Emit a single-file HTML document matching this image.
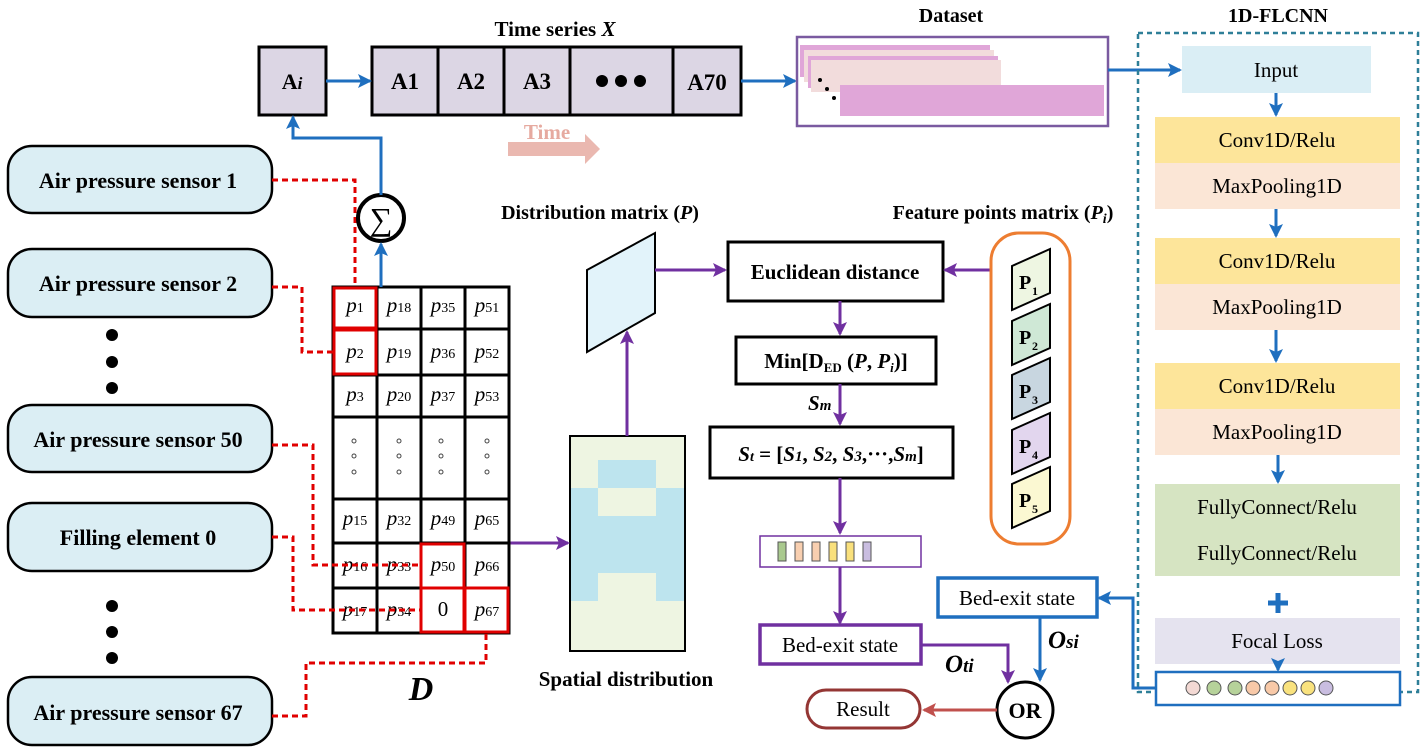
<!DOCTYPE html>
<html><head><meta charset="utf-8"><style>
html,body{margin:0;padding:0;background:#fff;}
svg{display:block;font-family:"Liberation Serif",serif;}
.b{font-weight:bold;}
</style></head><body>
<svg width="1422" height="752" viewBox="0 0 1422 752" xmlns="http://www.w3.org/2000/svg">
<defs>
<marker id="ab" markerWidth="14" markerHeight="14" refX="12" refY="7" orient="auto" markerUnits="userSpaceOnUse"><path d="M0,0 L14,7 L0,14 L3,7 z" fill="#1f6fbf"/></marker>
<marker id="ap" markerWidth="14" markerHeight="14" refX="12" refY="7" orient="auto" markerUnits="userSpaceOnUse"><path d="M0,0 L14,7 L0,14 L3,7 z" fill="#7030a0"/></marker>
<marker id="ar" markerWidth="14" markerHeight="14" refX="12" refY="7" orient="auto" markerUnits="userSpaceOnUse"><path d="M0,0 L14,7 L0,14 L3,7 z" fill="#c0504d"/></marker>
</defs>

<!-- top time series -->
<text x="555" y="36" text-anchor="middle" class="b" font-size="21">Time series <tspan font-style="italic">X</tspan></text>
<rect x="259" y="47" width="67" height="68" fill="#dcd6e4" stroke="#000" stroke-width="3"/>
<text x="292" y="89" text-anchor="middle" class="b" font-size="22">A<tspan font-style="italic" font-size="17">i</tspan></text>
<rect x="372" y="47" width="369" height="68" fill="#dcd6e4" stroke="#000" stroke-width="3"/>
<g stroke="#000" stroke-width="3"><line x1="438" y1="47" x2="438" y2="115"/><line x1="504" y1="47" x2="504" y2="115"/><line x1="570" y1="47" x2="570" y2="115"/><line x1="673" y1="47" x2="673" y2="115"/></g>
<g class="b" font-size="23" text-anchor="middle"><text x="405" y="89">A1</text><text x="471" y="89">A2</text><text x="537" y="89">A3</text><text x="707" y="90">A70</text></g>
<g fill="#000"><circle cx="602" cy="81" r="6"/><circle cx="621" cy="81" r="6"/><circle cx="640" cy="81" r="6"/></g>
<line x1="326" y1="81" x2="370" y2="81" stroke="#1f6fbf" stroke-width="3" marker-end="url(#ab)"/>
<line x1="741" y1="81" x2="795" y2="81" stroke="#1f6fbf" stroke-width="3" marker-end="url(#ab)"/>
<text x="547" y="139" text-anchor="middle" class="b" font-size="21" fill="#e6aaa0">Time</text>
<path d="M508,142 L585,142 L585,134 L600,149 L585,164 L585,156 L508,156 z" fill="#eab8b0"/>

<!-- dataset -->
<text x="951" y="22" text-anchor="middle" class="b" font-size="20">Dataset</text>
<rect x="797" y="37" width="311" height="89" fill="#fff" stroke="#7a5aa0" stroke-width="2.5"/>
<rect x="800" y="45" width="190" height="32" fill="#e0a6d8"/>
<rect x="804" y="50" width="190" height="32" fill="#f2dcdc"/>
<rect x="808" y="56" width="190" height="32" fill="#e0a6d8"/>
<rect x="811" y="60" width="190" height="32" fill="#f2dcdc"/>
<rect x="840" y="85" width="264" height="31" fill="#e0a6d8"/>
<g fill="#000"><circle cx="820" cy="80" r="2"/><circle cx="827" cy="89" r="2"/><circle cx="834" cy="98" r="2"/></g>
<line x1="1108" y1="70" x2="1180" y2="70" stroke="#1f6fbf" stroke-width="3" marker-end="url(#ab)"/>

<!-- 1D-FLCNN -->
<text x="1278" y="22" text-anchor="middle" class="b" font-size="20">1D-FLCNN</text>
<rect x="1138" y="33" width="280" height="659" fill="none" stroke="#2e7f98" stroke-width="2.5" stroke-dasharray="5,4"/>
<rect x="1182" y="46" width="189" height="47" fill="#daeef5"/>
<text x="1276" y="77" text-anchor="middle" font-size="21">Input</text>
<g font-size="21" text-anchor="middle">
<rect x="1155" y="117" width="245" height="46" fill="#fde59a"/><text x="1277" y="147">Conv1D/Relu</text>
<rect x="1155" y="163" width="245" height="46" fill="#fbe6d6"/><text x="1277" y="193">MaxPooling1D</text>
<rect x="1155" y="238" width="245" height="46" fill="#fde59a"/><text x="1277" y="268">Conv1D/Relu</text>
<rect x="1155" y="284" width="245" height="46" fill="#fbe6d6"/><text x="1277" y="314">MaxPooling1D</text>
<rect x="1155" y="363" width="245" height="46" fill="#fde59a"/><text x="1277" y="393">Conv1D/Relu</text>
<rect x="1155" y="409" width="245" height="46" fill="#fbe6d6"/><text x="1277" y="439">MaxPooling1D</text>
<rect x="1155" y="484" width="245" height="46" fill="#d6e4c2"/><text x="1277" y="514">FullyConnect/Relu</text>
<rect x="1155" y="530" width="245" height="46" fill="#d6e4c2"/><text x="1277" y="560">FullyConnect/Relu</text>
<rect x="1155" y="618" width="245" height="46" fill="#e5e3ef"/><text x="1277" y="648">Focal Loss</text>
</g>
<g stroke="#1f6fbf" stroke-width="3">
<line x1="1276" y1="93" x2="1276" y2="115" marker-end="url(#ab)"/>
<line x1="1276" y1="209" x2="1276" y2="236" marker-end="url(#ab)"/>
<line x1="1276" y1="330" x2="1276" y2="361" marker-end="url(#ab)"/>
<line x1="1278" y1="455" x2="1278" y2="482" marker-end="url(#ab)"/>
<line x1="1278" y1="664" x2="1278" y2="670" marker-end="url(#ab)"/>
</g>
<path d="M1268,603 h20 M1278,593 v20" stroke="#1f6fbf" stroke-width="5"/>
<rect x="1156" y="672" width="244" height="33" fill="#fff" stroke="#1f6fbf" stroke-width="2.5"/>
<g stroke="#555" stroke-width="1">
<circle cx="1193" cy="688" r="7" fill="#f3d9d4"/><circle cx="1214" cy="688" r="7" fill="#b6d29a"/><circle cx="1235" cy="688" r="7" fill="#b6d29a"/><circle cx="1253" cy="688" r="7" fill="#f8c9a8"/><circle cx="1272" cy="688" r="7" fill="#f8c9a8"/><circle cx="1290" cy="688" r="7" fill="#f9e27e"/><circle cx="1308" cy="688" r="7" fill="#f9e27e"/><circle cx="1326" cy="688" r="7" fill="#c9bde0"/>
</g>
<polyline points="1156,688 1133,688 1133,598 1099,598" fill="none" stroke="#1f6fbf" stroke-width="3" marker-end="url(#ab)"/>
<rect x="938" y="578" width="159" height="39" fill="#fff" stroke="#1f6fbf" stroke-width="3.5"/>
<text x="1017" y="605" text-anchor="middle" font-size="21">Bed-exit state</text>
<line x1="1040" y1="617" x2="1040" y2="680" stroke="#1f6fbf" stroke-width="3" marker-end="url(#ab)"/>
<text x="1048" y="648" class="b" font-style="italic" font-size="25">O<tspan font-size="19">si</tspan></text>

<!-- OR & result -->
<circle cx="1025" cy="710" r="28" fill="#fff" stroke="#000" stroke-width="3"/>
<text x="1025" y="718" text-anchor="middle" class="b" font-size="22">OR</text>
<rect x="760" y="625" width="161" height="39" fill="#fff" stroke="#7030a0" stroke-width="3.5"/>
<text x="840" y="652" text-anchor="middle" font-size="21">Bed-exit state</text>
<polyline points="921,645 1008,645 1008,682" fill="none" stroke="#7030a0" stroke-width="3" marker-end="url(#ap)"/>
<text x="945" y="672" class="b" font-style="italic" font-size="25">O<tspan font-size="19">ti</tspan></text>
<rect x="807" y="690" width="113" height="38" rx="19" fill="#fff" stroke="#943634" stroke-width="3"/>
<text x="863" y="716" text-anchor="middle" font-size="21">Result</text>
<line x1="997" y1="710" x2="924" y2="710" stroke="#c0504d" stroke-width="3" marker-end="url(#ar)"/>

<!-- middle flow -->
<text x="600" y="219" text-anchor="middle" class="b" font-size="20">Distribution matrix (<tspan font-style="italic">P</tspan>)</text>
<text x="1003" y="219" text-anchor="middle" class="b" font-size="20">Feature points matrix (<tspan font-style="italic">P<tspan font-size="14" dy="4">i</tspan></tspan><tspan dy="-4">)</tspan></text>
<polygon points="587,270 655,233 655,313 587,352" fill="#e2f3fa" stroke="#000" stroke-width="2"/>
<line x1="655" y1="270" x2="725" y2="270" stroke="#7030a0" stroke-width="3" marker-end="url(#ap)"/>
<rect x="728" y="242" width="215" height="59" fill="#fff" stroke="#000" stroke-width="3"/>
<text x="835" y="279" text-anchor="middle" class="b" font-size="21">Euclidean distance</text>
<line x1="992" y1="270" x2="945" y2="270" stroke="#7030a0" stroke-width="3" marker-end="url(#ap)"/>
<line x1="840" y1="301" x2="840" y2="334" stroke="#7030a0" stroke-width="3" marker-end="url(#ap)"/>
<rect x="736" y="337" width="200" height="47" fill="#fff" stroke="#000" stroke-width="3"/>
<text x="836" y="368" text-anchor="middle" class="b" font-size="21">Min[D<tspan font-size="13" dy="4">ED</tspan><tspan dy="-4"> (</tspan><tspan font-style="italic">P</tspan>, <tspan font-style="italic">P<tspan font-size="13" dy="4">i</tspan></tspan><tspan dy="-4">)]</tspan></text>
<line x1="840" y1="384" x2="840" y2="424" stroke="#7030a0" stroke-width="3" marker-end="url(#ap)"/>
<text x="808" y="410" class="b" font-style="italic" font-size="21">S<tspan font-size="15">m</tspan></text>
<rect x="710" y="427" width="243" height="51" fill="#fff" stroke="#000" stroke-width="3"/>
<text x="831" y="461" text-anchor="middle" class="b" font-size="21"><tspan font-style="italic">S<tspan font-size="14">t</tspan></tspan> = [<tspan font-style="italic">S<tspan font-size="15">1</tspan></tspan>, <tspan font-style="italic">S<tspan font-size="15">2</tspan></tspan>, <tspan font-style="italic">S<tspan font-size="15">3</tspan></tspan>,···,<tspan font-style="italic">S<tspan font-size="15">m</tspan></tspan>]</text>
<line x1="840" y1="478" x2="840" y2="533" stroke="#7030a0" stroke-width="3" marker-end="url(#ap)"/>
<rect x="760" y="536" width="161" height="31" fill="#fff" stroke="#7030a0" stroke-width="1.5"/>
<g stroke="#555" stroke-width="1">
<rect x="778" y="542" width="8" height="19" fill="#a9c98e"/><rect x="795" y="542" width="8" height="19" fill="#f8cfb0"/><rect x="812" y="542" width="8" height="19" fill="#f8cfb0"/><rect x="829" y="542" width="8" height="19" fill="#f9e07c"/><rect x="846" y="542" width="8" height="19" fill="#f9e07c"/><rect x="863" y="542" width="8" height="19" fill="#c9bde0"/>
</g>
<line x1="840" y1="567" x2="840" y2="623" stroke="#7030a0" stroke-width="3" marker-end="url(#ap)"/>

<!-- feature points -->
<rect x="991" y="233" width="79" height="311" rx="28" fill="#fff" stroke="#ed7d31" stroke-width="3"/>
<g stroke="#000" stroke-width="2">
<polygon points="1012,310 1012,266 1050,249 1050,293" fill="#eef6e2"/>
<polygon points="1012,365 1012,321 1050,304 1050,348" fill="#cfe8d6"/>
<polygon points="1012,419 1012,375 1050,358 1050,402" fill="#c8d6e0"/>
<polygon points="1012,474 1012,430 1050,413 1050,457" fill="#e2d6ee"/>
<polygon points="1012,528 1012,484 1050,467 1050,511" fill="#fbf8d2"/>
</g>
<g class="b" font-size="20">
<text x="1019" y="289">P</text><text x="1032" y="295" font-size="12">1</text>
<text x="1019" y="344">P</text><text x="1032" y="350" font-size="12">2</text>
<text x="1019" y="398">P</text><text x="1032" y="404" font-size="12">3</text>
<text x="1019" y="453">P</text><text x="1032" y="459" font-size="12">4</text>
<text x="1019" y="507">P</text><text x="1032" y="513" font-size="12">5</text>
</g>

<!-- spatial distribution -->
<rect x="570" y="436" width="115" height="215" fill="#eef5e2" stroke="#000" stroke-width="2"/>
<g fill="#bde4ee">
<rect x="598" y="460" width="58" height="28"/>
<rect x="571" y="488" width="27" height="113"/>
<rect x="656" y="488" width="28" height="113"/>
<rect x="598" y="516" width="58" height="57"/>
</g>
<text x="626" y="686" text-anchor="middle" class="b" font-size="21">Spatial distribution</text>
<line x1="627" y1="436" x2="627" y2="332" stroke="#7030a0" stroke-width="3" marker-end="url(#ap)"/>
<line x1="510" y1="543" x2="568" y2="543" stroke="#7030a0" stroke-width="3" marker-end="url(#ap)"/>

<!-- sensors -->
<g stroke="#000" stroke-width="2.5" fill="#dbeef4">
<rect x="8" y="146" width="264" height="67" rx="24"/>
<rect x="8" y="249" width="264" height="68" rx="24"/>
<rect x="8" y="405" width="264" height="67" rx="24"/>
<rect x="8" y="503" width="264" height="68" rx="24"/>
<rect x="8" y="677" width="264" height="68" rx="24"/>
</g>
<g class="b" font-size="22" text-anchor="middle">
<text x="138" y="188">Air pressure sensor 1</text>
<text x="138" y="291">Air pressure sensor 2</text>
<text x="138" y="447">Air pressure sensor 50</text>
<text x="138" y="545">Filling element 0</text>
<text x="138" y="720">Air pressure sensor 67</text>
</g>
<g fill="#000"><circle cx="112" cy="335" r="6"/><circle cx="112" cy="362" r="6"/><circle cx="112" cy="388" r="6"/><circle cx="112" cy="606" r="6"/><circle cx="112" cy="632" r="6"/><circle cx="112" cy="658" r="6"/></g>

<!-- grid D -->
<rect x="333" y="287" width="176" height="346" fill="#fff" stroke="#000" stroke-width="3"/>
<g stroke="#000" stroke-width="3">
<line x1="377" y1="287" x2="377" y2="633"/><line x1="421" y1="287" x2="421" y2="633"/><line x1="465" y1="287" x2="465" y2="633"/>
<line x1="333" y1="329" x2="509" y2="329"/><line x1="333" y1="375" x2="509" y2="375"/><line x1="333" y1="417" x2="509" y2="417"/><line x1="333" y1="499" x2="509" y2="499"/><line x1="333" y1="543" x2="509" y2="543"/><line x1="333" y1="588" x2="509" y2="588"/>
</g>
<g font-style="italic" font-size="21" text-anchor="middle">
<text x="355" y="312">p<tspan font-style="normal" font-size="14">1</tspan></text><text x="399" y="312">p<tspan font-style="normal" font-size="14">18</tspan></text><text x="443" y="312">p<tspan font-style="normal" font-size="14">35</tspan></text><text x="487" y="312">p<tspan font-style="normal" font-size="14">51</tspan></text>
<text x="355" y="358">p<tspan font-style="normal" font-size="14">2</tspan></text><text x="399" y="358">p<tspan font-style="normal" font-size="14">19</tspan></text><text x="443" y="358">p<tspan font-style="normal" font-size="14">36</tspan></text><text x="487" y="358">p<tspan font-style="normal" font-size="14">52</tspan></text>
<text x="355" y="401">p<tspan font-style="normal" font-size="14">3</tspan></text><text x="399" y="401">p<tspan font-style="normal" font-size="14">20</tspan></text><text x="443" y="401">p<tspan font-style="normal" font-size="14">37</tspan></text><text x="487" y="401">p<tspan font-style="normal" font-size="14">53</tspan></text>
<text x="355" y="525">p<tspan font-style="normal" font-size="14">15</tspan></text><text x="399" y="525">p<tspan font-style="normal" font-size="14">32</tspan></text><text x="443" y="525">p<tspan font-style="normal" font-size="14">49</tspan></text><text x="487" y="525">p<tspan font-style="normal" font-size="14">65</tspan></text>
<text x="355" y="571">p<tspan font-style="normal" font-size="14">16</tspan></text><text x="399" y="571">p<tspan font-style="normal" font-size="14">33</tspan></text><text x="443" y="571">p<tspan font-style="normal" font-size="14">50</tspan></text><text x="487" y="571">p<tspan font-style="normal" font-size="14">66</tspan></text>
<text x="355" y="616">p<tspan font-style="normal" font-size="14">17</tspan></text><text x="399" y="616">p<tspan font-style="normal" font-size="14">34</tspan></text><text x="443" y="616" font-style="normal">0</text><text x="487" y="616">p<tspan font-style="normal" font-size="14">67</tspan></text>
</g>
<g fill="none" stroke="#444" stroke-width="1">
<circle cx="354" cy="441" r="2"/><circle cx="354" cy="456" r="2"/><circle cx="354" cy="472" r="2"/>
<circle cx="399" cy="441" r="2"/><circle cx="399" cy="456" r="2"/><circle cx="399" cy="472" r="2"/>
<circle cx="441" cy="441" r="2"/><circle cx="441" cy="456" r="2"/><circle cx="441" cy="472" r="2"/>
<circle cx="487" cy="441" r="2"/><circle cx="487" cy="456" r="2"/><circle cx="487" cy="472" r="2"/>
</g>
<g fill="none" stroke="#e00000" stroke-width="3">
<rect x="334" y="288" width="42" height="40"/><rect x="334" y="330" width="42" height="44"/>
<rect x="421" y="544" width="43" height="44"/><rect x="421" y="588" width="43" height="44"/><rect x="465" y="588" width="43" height="44"/>
</g>
<text x="421" y="700" text-anchor="middle" class="b" font-style="italic" font-size="34">D</text>

<!-- red dashed connectors -->
<g fill="none" stroke="#e00000" stroke-width="3" stroke-dasharray="6,4">
<polyline points="272,180 355,180 355,287"/>
<polyline points="272,287 302,287 302,352 333,352"/>
<polyline points="272,445 313,445 313,565 421,565"/>
<polyline points="272,537 293,537 293,610 421,610"/>
<polyline points="272,716 306,716 306,663 486,663 486,633"/>
</g>

<!-- sigma -->
<circle cx="381" cy="218" r="23" fill="#fff" stroke="#000" stroke-width="4"/>
<text x="381" y="230" text-anchor="middle" font-size="32">∑</text>
<line x1="381" y1="287" x2="381" y2="244" stroke="#1f6fbf" stroke-width="3" marker-end="url(#ab)"/>
<polyline points="381,195 381,138 293,138 293,117" fill="none" stroke="#1f6fbf" stroke-width="3" marker-end="url(#ab)"/>
</svg>
</body></html>
